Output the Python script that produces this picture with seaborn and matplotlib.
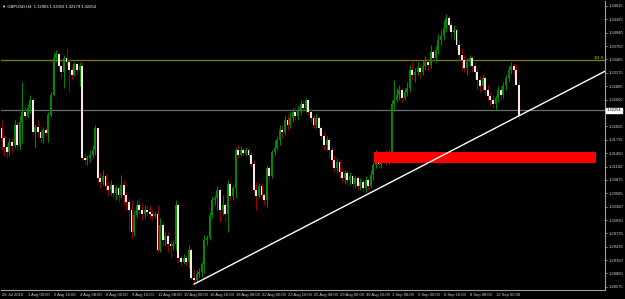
import numpy as np
import pandas as pd
import matplotlib
matplotlib.use("Agg")
import matplotlib.pyplot as plt
from matplotlib.patches import Rectangle
import seaborn as sns

# ---------------- data (GBPUSD, H4) ----------------
opens = [1.3199,1.3177,1.3158,1.3147,1.3169,1.3160,1.3205,1.3162,1.3212,1.3233,
         1.3225,1.3242,1.3259,1.3190,1.3201,1.3190,1.3177,1.3194,1.3188,1.3227,
         1.3270,1.3349,1.3358,1.3332,1.3319,1.3349,1.3341,1.3324,1.3313,1.3336,
         1.3324,1.3332,1.3134,1.3130,1.3134,1.3141,1.3152,1.3199,1.3091,1.3083,
         1.3096,1.3074,1.3066,1.3076,1.3059,1.3070,1.3055,1.3076,1.3055,1.3040,
         1.3023,1.2975,1.3012,1.3033,1.3023,1.3014,1.3023,1.3018,1.3014,1.3010,
         1.3014,1.2937,1.2990,1.2958,1.2967,1.2949,1.2945,1.2949,1.3033,1.2919,
         1.2911,1.2919,1.2911,1.2937,1.2876,1.2872,1.2885,1.2889,1.2906,1.2958,
         1.2962,1.3012,1.3044,1.3048,1.3066,1.3023,1.3033,1.3014,1.3078,1.3053,
         1.3070,1.3152,1.3141,1.3152,1.3145,1.3152,1.3141,1.3121,1.3066,1.3053,
         1.3074,1.3055,1.3044,1.3113,1.3096,1.3147,1.3156,1.3173,1.3194,1.3190,
         1.3216,1.3205,1.3220,1.3233,1.3225,1.3237,1.3250,1.3242,1.3259,1.3233,
         1.3220,1.3205,1.3220,1.3199,1.3182,1.3162,1.3173,1.3152,1.3130,1.3113,
         1.3126,1.3104,1.3091,1.3102,1.3087,1.3096,1.3078,1.3091,1.3074,1.3083,
         1.3070,1.3087,1.3074,1.3098,1.3119,1.3134,1.3121,1.3130,1.3134,1.3126,
         1.3147,1.3250,1.3259,1.3270,1.3281,1.3263,1.3276,1.3285,1.3324,1.3313,
         1.3319,1.3328,1.3319,1.3332,1.3341,1.3334,1.3362,1.3349,1.3367,1.3388,
         1.3397,1.3414,1.3435,1.3420,1.3405,1.3410,1.3377,1.3356,1.3345,1.3328,
         1.3341,1.3349,1.3332,1.3319,1.3302,1.3289,1.3306,1.3281,1.3268,1.3259,
         1.3250,1.3263,1.3281,1.3270,1.3289,1.3306,1.3324,1.3332,1.3324,1.32903]
highs = [1.3216,1.3184,1.3167,1.3177,1.3177,1.3216,1.3212,1.3227,1.3298,1.3246,
         1.3250,1.3270,1.3263,1.3207,1.3216,1.3203,1.3201,1.3199,1.3233,1.3276,
         1.3362,1.3367,1.3360,1.3332,1.3356,1.3371,1.3345,1.3332,1.3341,1.3339,
         1.3341,1.3341,1.3145,1.3141,1.3152,1.3162,1.3205,1.3199,1.3104,1.3109,
         1.3100,1.3083,1.3087,1.3078,1.3076,1.3074,1.3098,1.3087,1.3061,1.3048,
         1.3044,1.3023,1.3044,1.3048,1.3035,1.3033,1.3033,1.3033,1.3023,1.3018,
         1.3033,1.3005,1.2997,1.2975,1.2975,1.2958,1.2958,1.3044,1.3040,1.2926,
         1.2928,1.2926,1.2947,1.2941,1.2894,1.2894,1.2898,1.2911,1.2969,1.2969,
         1.3018,1.3053,1.3055,1.3074,1.3070,1.3055,1.3038,1.3087,1.3083,1.3076,
         1.3158,1.3162,1.3160,1.3156,1.3158,1.3156,1.3147,1.3130,1.3083,1.3081,
         1.3078,1.3059,1.3119,1.3117,1.3152,1.3173,1.3182,1.3205,1.3205,1.3227,
         1.3227,1.3233,1.3242,1.3244,1.3246,1.3259,1.3259,1.3263,1.3259,1.3242,
         1.3227,1.3229,1.3225,1.3203,1.3190,1.3182,1.3177,1.3158,1.3141,1.3134,
         1.3130,1.3113,1.3109,1.3109,1.3104,1.3100,1.3096,1.3096,1.3091,1.3087,
         1.3096,1.3091,1.3109,1.3126,1.3152,1.3147,1.3141,1.3147,1.3152,1.3152,
         1.3259,1.3302,1.3285,1.3291,1.3285,1.3285,1.3298,1.3334,1.3341,1.3328,
         1.3341,1.3336,1.3345,1.3354,1.3349,1.3377,1.3367,1.3375,1.3401,1.3410,
         1.3431,1.3444,1.3442,1.3427,1.3420,1.3414,1.3388,1.3371,1.3356,1.3349,
         1.3356,1.3354,1.3341,1.3328,1.3311,1.3313,1.3311,1.3291,1.3276,1.3270,
         1.3270,1.3289,1.3291,1.3298,1.3313,1.3332,1.3341,1.3339,1.3336,1.33010]
lows =  [1.3152,1.3139,1.3134,1.3139,1.3147,1.3156,1.3152,1.3152,1.3167,1.3216,
         1.3220,1.3231,1.3184,1.3156,1.3179,1.3171,1.3167,1.3182,1.3169,1.3222,
         1.3268,1.3341,1.3324,1.3306,1.3285,1.3332,1.3276,1.3302,1.3311,1.3315,
         1.3289,1.3130,1.3119,1.3119,1.3126,1.3134,1.3141,1.3083,1.3070,1.3076,
         1.3066,1.3053,1.3055,1.3048,1.3044,1.3040,1.3048,1.3033,1.3023,1.2980,
         1.2962,1.2967,1.3005,1.3014,1.3001,1.3005,1.3010,1.3005,1.3001,1.3005,
         1.2932,1.2932,1.2945,1.2947,1.2932,1.2919,1.2937,1.2937,1.2911,1.2902,
         1.2906,1.2902,1.2898,1.2872,1.2863,1.2867,1.2876,1.2878,1.2887,1.2947,
         1.2958,1.3005,1.3033,1.3023,1.2997,1.3012,1.2997,1.2975,1.3044,1.3044,
         1.3048,1.3134,1.3139,1.3139,1.3139,1.3130,1.3115,1.3059,1.3023,1.3048,
         1.3048,1.3033,1.3029,1.3087,1.3091,1.3141,1.3152,1.3162,1.3177,1.3184,
         1.3194,1.3199,1.3212,1.3216,1.3216,1.3227,1.3233,1.3233,1.3227,1.3212,
         1.3199,1.3199,1.3186,1.3173,1.3152,1.3152,1.3134,1.3119,1.3104,1.3104,
         1.3091,1.3083,1.3078,1.3076,1.3076,1.3070,1.3070,1.3066,1.3066,1.3061,
         1.3061,1.3066,1.3070,1.3087,1.3113,1.3113,1.3113,1.3124,1.3119,1.3121,
         1.3126,1.3237,1.3255,1.3259,1.3255,1.3259,1.3268,1.3276,1.3302,1.3298,
         1.3313,1.3306,1.3313,1.3324,1.3324,1.3328,1.3341,1.3341,1.3358,1.3377,
         1.3388,1.3405,1.3410,1.3392,1.3388,1.3367,1.3345,1.3324,1.3319,1.3313,
         1.3332,1.3319,1.3306,1.3281,1.3276,1.3281,1.3270,1.3259,1.3248,1.3242,
         1.3237,1.3255,1.3259,1.3263,1.3281,1.3298,1.3315,1.3311,1.3293,1.32179]
closes = [1.3177,1.3158,1.3147,1.3169,1.3160,1.3205,1.3162,1.3212,1.3233,1.3225,
          1.3242,1.3259,1.3190,1.3201,1.3190,1.3177,1.3194,1.3188,1.3227,1.3270,
          1.3349,1.3358,1.3332,1.3319,1.3349,1.3341,1.3324,1.3313,1.3336,1.3324,
          1.3332,1.3134,1.3130,1.3134,1.3141,1.3152,1.3199,1.3091,1.3083,1.3096,
          1.3074,1.3066,1.3076,1.3059,1.3070,1.3055,1.3076,1.3055,1.3040,1.3023,
          1.2975,1.3012,1.3033,1.3023,1.3014,1.3023,1.3018,1.3014,1.3010,1.3014,
          1.2937,1.2990,1.2958,1.2967,1.2949,1.2945,1.2949,1.3033,1.2919,1.2911,
          1.2919,1.2911,1.2937,1.2876,1.2872,1.2885,1.2889,1.2906,1.2958,1.2962,
          1.3012,1.3044,1.3048,1.3066,1.3023,1.3033,1.3014,1.3078,1.3053,1.3070,
          1.3152,1.3141,1.3152,1.3145,1.3152,1.3141,1.3121,1.3066,1.3053,1.3074,
          1.3055,1.3044,1.3113,1.3096,1.3147,1.3156,1.3173,1.3194,1.3190,1.3216,
          1.3205,1.3220,1.3233,1.3225,1.3237,1.3250,1.3242,1.3259,1.3233,1.3220,
          1.3205,1.3220,1.3199,1.3182,1.3162,1.3173,1.3152,1.3130,1.3113,1.3126,
          1.3104,1.3091,1.3102,1.3087,1.3096,1.3078,1.3091,1.3074,1.3083,1.3070,
          1.3087,1.3074,1.3098,1.3119,1.3134,1.3121,1.3130,1.3134,1.3126,1.3147,
          1.3250,1.3259,1.3270,1.3281,1.3263,1.3276,1.3285,1.3324,1.3313,1.3319,
          1.3328,1.3319,1.3332,1.3341,1.3334,1.3362,1.3349,1.3367,1.3388,1.3397,
          1.3414,1.3435,1.3420,1.3405,1.3410,1.3377,1.3356,1.3345,1.3328,1.3341,
          1.3349,1.3332,1.3319,1.3302,1.3289,1.3306,1.3281,1.3268,1.3259,1.3250,
          1.3263,1.3281,1.3270,1.3289,1.3306,1.3324,1.3332,1.3324,1.32903,1.32254]

x_labels = ["28 Jul 2016", "1 Aug 00:00", "2 Aug 16:00", "4 Aug 08:00", "8 Aug 00:00",
            "9 Aug 16:00", "11 Aug 08:00", "15 Aug 00:00", "16 Aug 16:00", "18 Aug 08:00",
            "22 Aug 00:00", "23 Aug 16:00", "25 Aug 08:00", "29 Aug 00:00", "30 Aug 16:00",
            "1 Sep 08:00", "5 Sep 00:00", "6 Sep 16:00", "8 Sep 08:00", "12 Sep 00:00"]
y_levels = [1.34615, 1.34325, 1.34040, 1.33750, 1.33465, 1.33175, 1.32885, 1.32600,
            1.32025, 1.31735, 1.31450, 1.31160, 1.30875, 1.30585, 1.30300, 1.30010,
            1.29725, 1.29435, 1.29150, 1.28860, 1.28575]
y_labels = [f"{v:.5f}" for v in y_levels]

fib_level = 1.3344          # 161.8 level
hline_level = 1.3237        # grey horizontal line
bid_price = 1.32254
trend_bars = [74, 232.5]
trend_prices = [1.2863, 1.3322]
zone_bars = [143.3, 228.7]
zone_prices = [1.3124, 1.3148]
header = "GBPUSD,H4  1.32903 1.33010 1.32179 1.32254"

# ---------------- figure ----------------
sns.set_style("dark")
plt.rcParams['font.family'] = ['Liberation Sans', 'DejaVu Sans']
FS = 3.0

W, H = 625, 299
fig = plt.figure(figsize=(W / 100, H / 100), dpi=100, facecolor="black")
ax = fig.add_axes([1 / W, 9 / H, 604 / W, 289 / H])
ax.set_facecolor("black")

df = pd.DataFrame({"o": opens, "h": highs, "l": lows, "c": closes})
df["i"] = np.arange(len(df))
up = df[df.c >= df.o]
dn = df[df.c < df.o]

ax.vlines(up.i, up.l, up.h, color="#008a00", linewidth=0.7, zorder=2)
ax.vlines(dn.i, dn.l, dn.h, color="#9a0000", linewidth=0.7, zorder=2)
ax.bar(up.i, up.c - up.o, bottom=up.o, width=0.7, color="#008a00", linewidth=0, zorder=3)
ax.bar(dn.i, dn.o - dn.c, bottom=dn.c, width=0.7, color="#ffe4e4", linewidth=0, zorder=3)

# horizontal lines
ax.axhline(fib_level, color="#808000", linewidth=0.9, zorder=1)
ax.axhline(hline_level, color="#6e6e6e", linewidth=0.9, zorder=1)
ax.text(231.5, fib_level, "161.8", color="#c8c800", fontsize=FS, ha="right", va="bottom")

# red zone
ax.add_patch(Rectangle((zone_bars[0], zone_prices[0]), zone_bars[1] - zone_bars[0],
                       zone_prices[1] - zone_prices[0], facecolor="#ff0000",
                       edgecolor="none", zorder=4))

# trend line
sns.lineplot(x=trend_bars, y=trend_prices, ax=ax, color="white", linewidth=1.0,
             zorder=5, legend=False)

ax.set_xlim(-0.2, 232.1)
ax.set_ylim(1.28505, 1.34719)

# axes styling
for s in ["top", "left"]:
    ax.spines[s].set_visible(False)
for s in ["right", "bottom"]:
    ax.spines[s].set_visible(True)
    ax.spines[s].set_color("#a0a0a0")
    ax.spines[s].set_linewidth(0.8)
ax.grid(False)

ax.yaxis.tick_right()
ax.set_yticks(y_levels)
ax.set_yticklabels(y_labels)
ax.tick_params(axis="y", colors="#d0d0d0", labelsize=FS, length=1.5, width=0.5, pad=1.2)

ax.set_xticks(np.arange(0, 200, 10))
ax.set_xticklabels(x_labels)
ax.tick_params(axis="x", colors="#d0d0d0", labelsize=FS, length=1.5, width=0.5, pad=1)
for t in ax.get_xticklabels():
    t.set_ha("left")

# bid box
ax.annotate("1.32254", xy=(1.0, hline_level), xycoords=("axes fraction", "data"),
            xytext=(1.5, 0), textcoords="offset points", fontsize=FS, color="black",
            va="center", ha="left",
            bbox=dict(boxstyle="square,pad=0.15", fc="white", ec="white"))

fig.text(0.004, 0.978, "\u25bc " + header, color="white", fontsize=FS, va="center", ha="left")

fig.savefig("out.png", dpi=100, facecolor="black")
